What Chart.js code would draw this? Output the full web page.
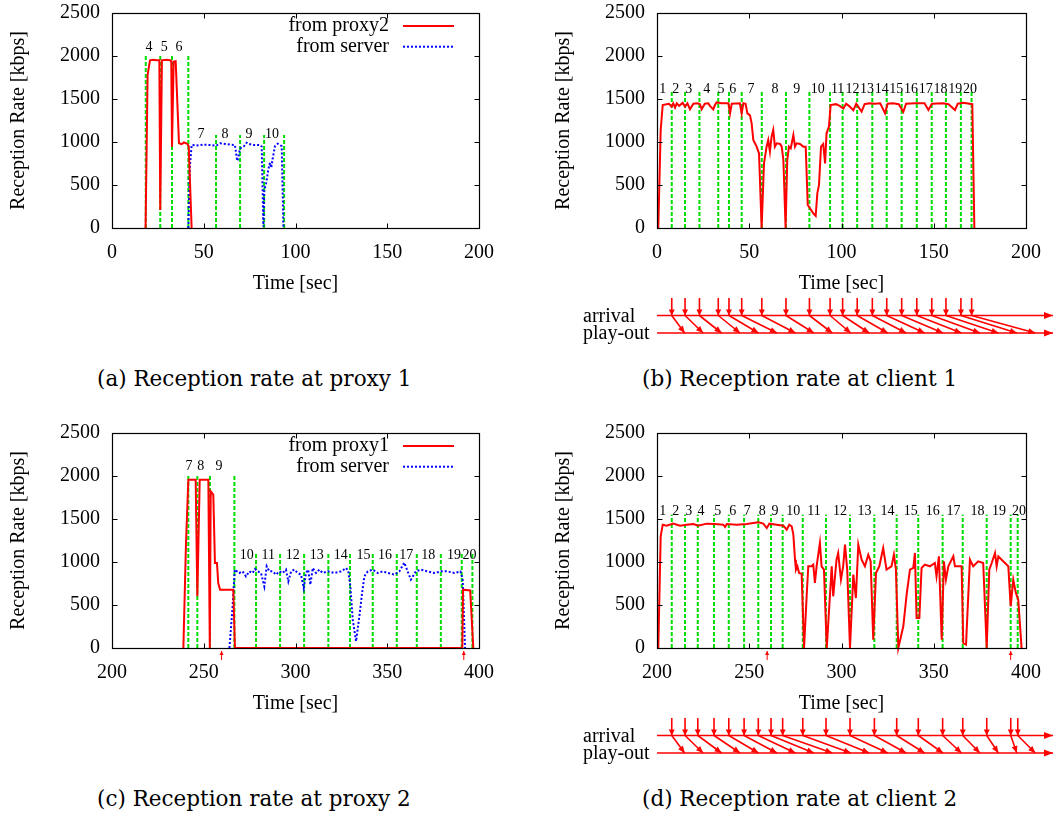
<!DOCTYPE html>
<html><head><meta charset="utf-8">
<script src="https://cdn.jsdelivr.net/npm/chart.js@4.4.0/dist/chart.umd.min.js"></script>
<style>
html,body{margin:0;padding:0;background:#fff;width:1055px;height:817px;overflow:hidden;}
#wrap{position:relative;width:1055px;height:817px;background:#fff;}
canvas{position:absolute;}
.cap{position:absolute;font-family:'DejaVu Serif',serif;font-size:21.5px;white-space:nowrap;color:#000;line-height:20px;}
</style></head><body><div id="wrap">
<canvas id="ca" width="527" height="300" style="left:0px;top:0px"></canvas>
<canvas id="cb" width="510" height="300" style="left:545px;top:0px"></canvas>
<canvas id="cc" width="527" height="300" style="left:0px;top:420px"></canvas>
<canvas id="cd" width="510" height="300" style="left:545px;top:420px"></canvas>
<canvas id="db" width="510" height="55" style="left:545px;top:290px"></canvas>
<canvas id="dd" width="510" height="55" style="left:545px;top:710px"></canvas>
<div class="cap" style="left:97px;top:369px">(a) Reception rate at proxy 1</div>
<div class="cap" style="left:642px;top:369px">(b) Reception rate at client 1</div>
<div class="cap" style="left:97px;top:789px">(c) Reception rate at proxy 2</div>
<div class="cap" style="left:642px;top:789px">(d) Reception rate at client 2</div>
</div>
<script>
// ---------- tick labels ----------
const yTicks = [0, 500, 1000, 1500, 2000, 2500];
const xTicksAB = [0, 50, 100, 150, 200];
const xTicksCD = [200, 250, 300, 350, 400];

// ---------- (a) proxy 1 ----------
const aProxyT = [18.3, 19.4, 20.7, 22.5, 24.3, 25.8, 26.3, 27.2, 29.5, 31.6, 32.3, 32.7, 33.6, 34.7, 36.5, 38.0, 39.2, 41.0, 41.8, 43.4];
const aProxyR = [0, 1780, 1950, 1955, 1950, 1950, 210, 1950, 1955, 1950, 1940, 945, 1935, 1940, 985, 975, 995, 980, 950, 0];
const aServerT = [41.6, 42.4, 43.4, 46.1, 49.8, 53.4, 56.7, 58.9, 61.6, 64.3, 67.0, 68.2, 68.6, 69.8, 71.9, 73.4, 74.7, 77.0, 80.7, 81.6, 82.5, 83.0, 84.0, 85.2, 86.1, 86.8, 87.5, 88.8, 90.3, 91.6, 92.5, 93.4];
const aServerR = [0, 700, 965, 960, 970, 965, 957, 984, 977, 970, 965, 780, 800, 926, 950, 992, 977, 965, 965, 946, 15, 442, 520, 680, 760, 700, 800, 950, 980, 965, 950, 0];
const aSegT = [18.4, 26.3, 32.7, 41.6, 56.7, 69.8, 82.9, 93.8];
const aSegH = [2000, 2000, 2000, 2000, 1080, 1080, 1080, 1080];
const aLabText = ['4', '5', '6', '7', '8', '9', '10'];
const aLabT = [20.2, 28.5, 36.5, 48.5, 61.6, 74.7, 87.2];
const aLabY = [2097, 2097, 2097, 1090, 1090, 1090, 1090];

// ---------- (b) client 1 ----------
const bRateT = [0.7, 2.0, 3.1, 5.2, 6.5, 7.9, 8.8, 9.8, 10.7, 12.0,
  13.9, 15.2, 16.5, 17.9, 19.7, 22.0, 23.3, 24.2, 25.9, 27.8,
  28.7, 30.5, 31.4, 32.3, 35.0, 38.7, 39.6, 40.5, 44.9, 45.9,
  46.8, 48.0, 49.0, 50.4, 51.3, 52.2, 54.0, 55.3, 56.7, 58.0,
  59.4, 60.3, 61.2, 62.1, 63.0, 63.9, 64.9, 66.7, 67.6, 68.5,
  69.7, 70.6, 71.5, 72.5, 73.9, 74.8, 75.7, 77.5, 79.3, 80.6,
  81.7, 82.9, 84.7, 86.0, 86.9, 87.8, 88.9, 90.1, 91.1, 91.9,
  93.2, 94.1, 97.0, 99.0, 101.0, 102.5, 104.0, 106.4, 108.0, 110.9,
  112.5, 115.0, 118.0, 121.0, 123.6, 125.0, 128.0, 131.0, 133.5, 135.0,
  140.0, 145.0, 147.1, 149.0, 155.0, 158.0, 161.5, 163.0, 166.0, 170.9, 172.0];
const bRateR = [0, 1140, 1430, 1440, 1445, 1410, 1450, 1400, 1450, 1420,
  1455, 1410, 1450, 1380, 1445, 1450, 1440, 1380, 1445, 1450,
  1420, 1380, 1430, 1460, 1450, 1450, 1333, 1445, 1450, 1333,
  1450, 1445, 1333, 1310, 1217, 1023, 946, 868, 0, 752,
  946, 1023, 888, 1062, 1140, 946, 984, 977, 946, 790,
  0, 790, 946, 926, 1081, 946, 984, 977, 946, 946,
  267, 229, 170, 140, 403, 500, 946, 977, 752, 1101,
  1178, 1430, 1440, 1420, 1390, 1445, 1420, 1370, 1445, 1353,
  1440, 1450, 1445, 1450, 1333, 1445, 1450, 1440, 1350, 1445,
  1450, 1450, 1372, 1445, 1450, 1440, 1372, 1445, 1455, 1440, 0];
const bArrivalT = [8.0, 15.2, 23.0, 33.2, 39.0, 45.9, 56.8, 69.9, 82.6, 93.8, 100.6, 108.5, 116.7, 124.5, 132.6, 140.8, 148.9, 156.6, 164.7, 170.5];
const bSegH = [1600, 1600, 1600, 1600, 1600, 1600, 1600, 1600, 1600, 1600, 1600, 1600, 1600, 1600, 1600, 1600, 1600, 1600, 1600, 1600];
const bLabText = ['1','2','3','4','5','6','7','8','9','10','11','12','13','14','15','16','17','18','19','20'];
const bLabT = [3.1, 10.1, 17.2, 26.9, 34.7, 41.0, 50.9, 63.9, 75.7, 87.1, 97.9, 105.9, 113.8, 121.8, 129.7, 137.7, 145.7, 153.6, 161.6, 169.6];
const bLabY = [1610, 1610, 1610, 1610, 1610, 1610, 1610, 1610, 1610, 1610, 1610, 1610, 1610, 1610, 1610, 1610, 1610, 1610, 1610, 1610];
const bPlayT = [15, 25, 35, 45, 55, 65, 75, 85, 95, 105, 115, 125, 135, 145, 155, 165, 175, 185, 195, 205];

// ---------- (c) proxy 2 ----------
const cProxyT = [238.9, 240.3, 241.6, 245.6, 246.5, 247.8, 252.5, 253.3, 253.8, 255.2, 256.1, 257.2, 257.9, 258.9, 266.1, 267.0, 390.9, 391.3, 395.2, 396.9];
const cProxyR = [0, 1200, 1957, 1957, 601, 1957, 1957, 0, 1822, 1783, 988, 988, 756, 678, 678, 0, 0, 678, 670, 0];
const cServerT = [264.0, 265.6, 266.9, 269.3, 271.2, 273.0, 274.8, 276.6, 277.9, 279.4,
  281.2, 283.0, 284.3, 285.8, 287.6, 289.4, 291.2, 293.0, 294.8, 296.1,
  297.6, 299.4, 301.2, 303.0, 304.5, 305.7, 306.9, 308.1, 309.4, 311.2,
  313.0, 314.8, 317.6, 321.2, 324.9, 327.6, 328.8, 329.9, 331.2, 333.0,
  334.8, 336.3, 337.5, 339.4, 342.1, 344.8, 347.6, 350.3, 353.9, 356.6,
  359.3, 361.1, 362.9, 365.6, 368.4, 372.0, 375.6, 379.3, 382.9, 386.6,
  389.9, 391.1, 392.4];
const cServerR = [0, 445, 911, 872, 891, 833, 891, 872, 918, 891,
  872, 717, 950, 891, 891, 853, 891, 872, 911, 775,
  891, 911, 872, 853, 698, 872, 911, 736, 930, 872,
  911, 872, 891, 872, 891, 930, 891, 717, 330, 78,
  368, 640, 833, 891, 911, 872, 891, 872, 853, 891,
  992, 891, 795, 891, 911, 891, 872, 891, 891, 872,
  891, 795, 0];
const cSegT = [241.6, 246.5, 253.4, 266.7, 278.5, 291.6, 304.7, 317.9, 329.7, 342.1, 355.2, 366.1, 379.2, 390.6, 396.4];
const cSegH = [2000, 2000, 2000, 2000, 1100, 1100, 1100, 1100, 1100, 1100, 1100, 1100, 1100, 1100, 1100];
const cLabText = ['7','8','9','10','11','12','13','14','15','16','17','18','19','20'];
const cLabT = [242.0, 248.3, 258.3, 273.4, 285.2, 298.5, 311.6, 324.6, 337.0, 348.8, 360.3, 372.4, 386.4, 394.8];
const cLabY = [2108, 2108, 2108, 1081, 1081, 1081, 1081, 1081, 1081, 1081, 1081, 1081, 1081, 1081];
const markT = [259.7, 391.7];

// ---------- (d) client 2 ----------
const dRateT = [200.7, 202.0, 203.1, 205.2, 208.8, 212.5, 216.1, 219.7, 222.3, 226.9,
  231.4, 235.9, 236.9, 237.8, 243.2, 248.6, 254.9, 257.6, 259.5, 260.9,
  264.9, 268.5, 270.3, 271.7, 273.0, 273.9, 274.8, 275.3, 276.1, 277.0,
  278.4, 279.7, 281.2, 282.0, 283.8, 284.7, 285.6, 286.5, 288.3, 289.2,
  290.5, 292.0, 294.7, 295.5, 297.3, 298.2, 299.7, 300.9, 301.9, 303.1,
  304.6, 306.4, 307.8, 309.1, 310.9, 312.7, 314.5, 315.8, 317.2, 318.7,
  320.5, 322.6, 324.4, 327.1, 328.4, 329.5, 330.8, 333.5, 335.3, 337.1,
  338.9, 339.8, 340.7, 342.2, 343.4, 345.2, 347.9, 350.6, 351.5, 352.8,
  354.3, 355.5, 356.6, 357.9, 360.6, 361.5, 365.1, 366.0, 367.5, 369.6,
  371.4, 374.1, 376.8, 378.7, 380.1, 381.4, 383.2, 384.1, 385.0, 386.8,
  388.6, 390.4, 391.7, 393.1, 394.5, 395.8, 397.6];
const dRateR = [0, 1298, 1434, 1422, 1446, 1422, 1434, 1442, 1422, 1446,
  1442, 1434, 1407, 1442, 1434, 1442, 1461, 1446, 1395, 1446,
  1434, 1422, 1376, 1434, 1415, 1318, 1027, 911, 950, 872,
  864, 0, 640, 950, 950, 969, 756, 950, 1221, 950,
  911, 0, 950, 601, 1027, 1105, 795, 950, 1202, 911,
  0, 853, 581, 1202, 1027, 950, 1085, 1008, 97, 872,
  950, 1163, 911, 950, 1085, 911, 0, 252, 620, 911,
  930, 1105, 349, 349, 930, 969, 950, 988, 833, 1066,
  97, 1008, 795, 950, 1066, 950, 950, 58, 39, 1027,
  950, 1008, 988, 0, 911, 988, 1105, 950, 1066, 1027,
  988, 950, 485, 795, 640, 562, 0];
const dArrivalT = [208.0, 215.2, 222.1, 230.9, 238.9, 247.2, 254.9, 261.8, 268.1, 279.0, 291.6, 304.6, 317.8, 329.9, 341.6, 354.8, 365.7, 378.7, 391.7, 395.5];
const dSegH = [1550, 1550, 1550, 1550, 1550, 1550, 1550, 1550, 1550, 1550, 1550, 1550, 1550, 1550, 1550, 1550, 1550, 1550, 1550, 1550];
const dLabText = ['1','2','3','4','5','6','7','8','9','10','11','12','13','14','15','16','17','18','19','20'];
const dLabT = [203.1, 210.1, 217.2, 223.8, 232.9, 241.0, 248.9, 257.0, 263.9, 273.9, 285.1, 299.2, 312.4, 324.9, 337.5, 349.5, 360.7, 373.7, 385.4, 396.2];
const dLabY = [1595, 1595, 1595, 1595, 1595, 1595, 1595, 1595, 1595, 1595, 1595, 1595, 1595, 1595, 1595, 1595, 1595, 1595, 1595, 1595];
const dPlayT = [215, 225, 235, 245, 255, 265, 275, 285, 295, 305, 315, 325, 335, 345, 355, 365, 375, 385, 395, 405];

// ---------- styling ----------
const RED = '#ff0000', BLUE = '#0000ff', GREEN = '#00dd00';
const FONT = '"Liberation Serif", "Times New Roman", serif';
Chart.defaults.font.family = FONT;
Chart.defaults.color = '#000';

function pts(xs, ys) { return xs.map((x, i) => ({ x: x, y: ys[i] })); }
function impulses(xs, hs) {
  const d = [];
  xs.forEach((x, i) => { d.push({ x: x, y: 0 }, { x: x, y: hs[i] }, { x: x, y: null }); });
  return d;
}
function arrow(ctx, x1, y1, x2, y2, len, w) {
  ctx.beginPath(); ctx.moveTo(x1, y1); ctx.lineTo(x2, y2); ctx.stroke();
  const a = Math.atan2(y2 - y1, x2 - x1);
  const bx = x2 - len * Math.cos(a), by = y2 - len * Math.sin(a);
  ctx.beginPath();
  ctx.moveTo(x2, y2);
  ctx.lineTo(bx + w * Math.sin(a), by - w * Math.cos(a));
  ctx.lineTo(bx - w * Math.sin(a), by + w * Math.cos(a));
  ctx.closePath(); ctx.fill();
}

function panel(id, cfg) {
  const datasets = [];
  cfg.series.forEach(s => datasets.push({
    data: pts(s.t, s.r), borderColor: s.color, borderWidth: s.width, borderDash: s.dash,
    pointRadius: 0, tension: 0, clip: false, order: 1, fill: false
  }));
  datasets.push({
    data: impulses(cfg.segT, cfg.segH), borderColor: GREEN, borderWidth: 2, borderDash: [4, 2],
    pointRadius: 0, spanGaps: false, clip: false, order: 2, fill: false
  });
  const deco = {
    id: 'deco' + id,
    afterDatasetsDraw(chart) {
      const ctx = chart.ctx, ca = chart.chartArea, xs = chart.scales.x, ys = chart.scales.y;
      ctx.save();
      ctx.strokeStyle = '#000'; ctx.lineWidth = 1.2; ctx.setLineDash([]);
      const L = Math.round(ca.left) + 0.5, R = Math.round(ca.right) + 0.5, T = Math.round(ca.top) + 0.5, B = Math.round(ca.bottom) + 0.5;
      ctx.strokeRect(L, T, R - L, B - T);
      ctx.lineWidth = 1;
      ctx.beginPath();
      cfg.xTicks.forEach(v => {
        const x = Math.round(xs.getPixelForValue(v)) + 0.5;
        ctx.moveTo(x, B); ctx.lineTo(x, B - 5); ctx.moveTo(x, T); ctx.lineTo(x, T + 5);
      });
      yTicks.forEach(v => {
        const y = Math.round(ys.getPixelForValue(v)) + 0.5;
        ctx.moveTo(L, y); ctx.lineTo(L + 5, y); ctx.moveTo(R, y); ctx.lineTo(R - 5, y);
      });
      ctx.stroke();
      ctx.fillStyle = '#000'; ctx.font = '14px ' + FONT; ctx.textAlign = 'center'; ctx.textBaseline = 'middle';
      cfg.labT.forEach((t, i) => ctx.fillText(cfg.labText[i], xs.getPixelForValue(t), ys.getPixelForValue(cfg.labY[i])));
      if (cfg.legend) {
        ctx.font = '20px ' + FONT; ctx.textAlign = 'right';
        cfg.legend.forEach((e, i) => {
          const y = ca.top + 13 + i * 20.7;
          ctx.fillStyle = '#000';
          ctx.fillText(e.text, ca.left + 277, y);
          ctx.beginPath(); ctx.setLineDash(e.dash); ctx.strokeStyle = e.color; ctx.lineWidth = 2;
          ctx.moveTo(ca.left + 291, y); ctx.lineTo(ca.left + 342, y); ctx.stroke();
          ctx.setLineDash([]);
        });
      }
      if (cfg.markers) {
        ctx.strokeStyle = RED; ctx.fillStyle = RED; ctx.lineWidth = 1;
        cfg.markers.forEach(t => {
          const x = xs.getPixelForValue(t);
          arrow(ctx, x, ca.bottom + 12, x, ca.bottom + 3, 4, 2);
        });
      }
      ctx.restore();
    }
  };
  new Chart(document.getElementById(id), {
    type: 'line',
    data: { datasets: datasets },
    options: {
      responsive: false, animation: false, devicePixelRatio: 1,
      layout: { padding: { left: 0, top: 13, right: cfg.padRight, bottom: 0 } },
      plugins: { legend: { display: false }, tooltip: { enabled: false } },
      scales: {
        x: {
          type: 'linear', min: cfg.xTicks[0], max: cfg.xTicks[cfg.xTicks.length - 1],
          afterFit: s => { s.height = 72; },
          afterBuildTicks: s => { s.ticks = cfg.xTicks.map(v => ({ value: v })); },
          ticks: { autoSkip: false, maxRotation: 0, padding: 0, font: { size: 20 }, color: '#000', callback: v => String(v) },
          grid: { display: false, drawTicks: true, tickLength: 13 }, border: { display: false },
          title: { display: true, text: 'Time [sec]', font: { size: 20 }, color: '#000', padding: { top: 0, bottom: 4 } }
        },
        y: {
          type: 'linear', min: 0, max: 2500,
          afterFit: s => { s.width = 112; },
          afterBuildTicks: s => { s.ticks = yTicks.map(v => ({ value: v })); },
          ticks: { autoSkip: false, padding: 0, font: { size: 20 }, color: '#000', callback: v => String(v) },
          grid: { display: false, drawTicks: true, tickLength: 12 }, border: { display: false },
          title: { display: true, text: 'Reception Rate [kbps]', font: { size: 20 }, color: '#000', padding: { top: 7, bottom: 0 } }
        }
      }
    },
    plugins: [deco]
  });
}

function diagram(id, xmin, xmax, arrT, playT) {
  const draw = {
    id: 'diag' + id,
    afterDraw(chart) {
      const ctx = chart.ctx, xs = chart.scales.x, ys = chart.scales.y;
      ctx.save();
      ctx.strokeStyle = RED; ctx.fillStyle = RED; ctx.lineWidth = 1.6;
      const yA = ys.getPixelForValue(1), yP = ys.getPixelForValue(0), yTop = ys.getPixelForValue(2);
      const x0 = xs.getPixelForValue(xmin), x1 = xs.getPixelForValue(xmax);
      arrow(ctx, x0, yA, x1, yA, 9, 3.5);
      arrow(ctx, x0, yP, x1, yP, 9, 3.5);
      arrT.forEach(t => { const x = xs.getPixelForValue(t); arrow(ctx, x, yTop, x, yA, 6, 3); });
      arrT.forEach((t, i) => { arrow(ctx, xs.getPixelForValue(t), yA, xs.getPixelForValue(playT[i]), yP, 7, 3); });
      ctx.fillStyle = '#000'; ctx.font = '20px ' + FONT; ctx.textAlign = 'left'; ctx.textBaseline = 'middle';
      ctx.fillText('arrival', x0 - 74, yA + 1);
      ctx.fillText('play-out', x0 - 74, yP + 1);
      ctx.restore();
    }
  };
  new Chart(document.getElementById(id), {
    type: 'scatter',
    data: { datasets: [{ data: [], pointRadius: 0 }] },
    options: {
      responsive: false, animation: false, devicePixelRatio: 1,
      layout: { padding: { left: 112, right: 2, top: 8, bottom: 12 } },
      plugins: { legend: { display: false }, tooltip: { enabled: false } },
      scales: {
        x: { type: 'linear', display: false, min: xmin, max: xmax },
        y: { type: 'linear', display: false, min: 0, max: 2 }
      }
    },
    plugins: [draw]
  });
}

panel('ca', {
  xTicks: xTicksAB, padRight: 48,
  series: [
    { t: aProxyT, r: aProxyR, color: RED, width: 2, dash: [] },
    { t: aServerT, r: aServerR, color: BLUE, width: 2, dash: [2, 2] }
  ],
  segT: aSegT, segH: aSegH, labT: aLabT, labY: aLabY, labText: aLabText,
  legend: [{ text: 'from proxy2', color: RED, dash: [] }, { text: 'from server', color: BLUE, dash: [2, 2] }]
});
panel('cb', {
  xTicks: xTicksAB, padRight: 29,
  series: [{ t: bRateT, r: bRateR, color: RED, width: 2, dash: [] }],
  segT: bArrivalT, segH: bSegH, labT: bLabT, labY: bLabY, labText: bLabText
});
panel('cc', {
  xTicks: xTicksCD, padRight: 48,
  series: [
    { t: cProxyT, r: cProxyR, color: RED, width: 2, dash: [] },
    { t: cServerT, r: cServerR, color: BLUE, width: 2, dash: [2, 2] }
  ],
  segT: cSegT, segH: cSegH, labT: cLabT, labY: cLabY, labText: cLabText,
  legend: [{ text: 'from proxy1', color: RED, dash: [] }, { text: 'from server', color: BLUE, dash: [2, 2] }],
  markers: markT
});
panel('cd', {
  xTicks: xTicksCD, padRight: 29,
  series: [{ t: dRateT, r: dRateR, color: RED, width: 2, dash: [] }],
  segT: dArrivalT, segH: dSegH, labT: dLabT, labY: dLabY, labText: dLabText,
  markers: markT
});
diagram('db', 0, 214.6, bArrivalT, bPlayT);
diagram('dd', 200, 414.6, dArrivalT, dPlayT);
</script>
</body></html>
